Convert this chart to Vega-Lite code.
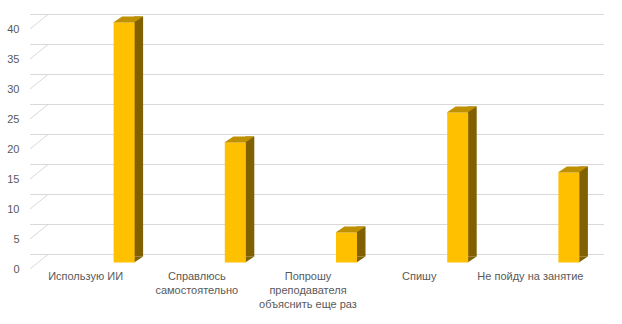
{
  "$schema": "https://vega.github.io/schema/vega-lite/v6.json",
  "width": 556,
  "height": 240,
  "autosize": {"type": "none"},
  "padding": {"left": 30, "top": 29, "right": 36, "bottom": 55},
  "background": "white",
  "config": {
    "view": {"stroke": null},
    "axis": {"labelFont": "Liberation Sans", "labelFontSize": 11, "labelColor": "#595959", "grid": false, "ticks": false, "domain": false}
  },
  "datasets": {
    "bars": [
      {"category": "Использую ИИ", "value": 40},
      {"category": "Справлюсь самостоятельно", "value": 20},
      {"category": "Попрошу преподавателя объяснить еще раз", "value": 5},
      {"category": "Спишу", "value": 25},
      {"category": "Не  пойду на занятие", "value": 15}
    ],
    "ticks": [
      {"value": 0}, {"value": 5}, {"value": 10}, {"value": 15}, {"value": 20},
      {"value": 25}, {"value": 30}, {"value": 35}, {"value": 40}
    ]
  },
  "layer": [
    {
      "data": {"name": "ticks"},
      "mark": {"type": "rule", "color": "#D9D9D9", "strokeWidth": 1, "xOffset": 18, "x2Offset": 22, "yOffset": -14.5},
      "encoding": {
        "y": {"field": "value", "type": "quantitative", "title": null, "scale": {"domain": [0, 40], "nice": false},
          "axis": {"values": [0, 5, 10, 15, 20, 25, 30, 35, 40], "labelPadding": 11, "labelOverlap": false}}
      }
    },
    {
      "data": {"name": "ticks"},
      "mark": {"type": "point", "shape": "M-1,0.806L1,-0.806", "size": 324, "filled": false, "stroke": "#D9D9D9", "strokeWidth": 1, "opacity": 1, "xOffset": -46.6, "yOffset": -7.25},
      "encoding": {
        "x": {"datum": "Использую ИИ", "type": "nominal", "title": null},
        "y": {"field": "value", "type": "quantitative", "title": null,
          "axis": {"values": [0, 5, 10, 15, 20, 25, 30, 35, 40], "labelPadding": 11, "labelOverlap": false}}
      }
    },
    {
      "data": {"name": "bars"},
      "mark": {"type": "bar", "color": "#806000", "width": 9, "xOffset": 53, "yOffset": -12.5, "y2Offset": -12.5},
      "encoding": {
        "x": {"field": "category", "type": "nominal", "sort": null, "title": null},
        "y": {"field": "value", "type": "quantitative", "title": null,
          "axis": {"values": [0, 5, 10, 15, 20, 25, 30, 35, 40], "labelPadding": 11, "labelOverlap": false}}
      }
    },
    {
      "data": {"name": "bars"},
      "mark": {"type": "point", "shape": "M-1,-0.667L1,-0.667L-1,0.667Z", "size": 81, "filled": true, "color": "#806000", "opacity": 1, "strokeWidth": 0, "xOffset": 53, "yOffset": -9.5},
      "encoding": {
        "x": {"field": "category", "type": "nominal", "sort": null, "title": null},
        "y": {"datum": 0, "type": "quantitative", "title": null,
          "axis": {"values": [0, 5, 10, 15, 20, 25, 30, 35, 40], "labelPadding": 11, "labelOverlap": false}}
      }
    },
    {
      "data": {"name": "bars"},
      "mark": {"type": "bar", "color": "#FFC000", "width": 21, "xOffset": 38.5, "yOffset": -6.5, "y2Offset": -6.5},
      "encoding": {
        "x": {
          "field": "category", "type": "nominal", "sort": null, "title": null,
          "scale": {"paddingInner": 0, "paddingOuter": 0},
          "axis": {
            "labelAngle": 0, "labelPadding": 7, "labelLineHeight": 14, "labelLimit": 200, "labelAlign": "center",
            "labelExpr": "datum.value == 'Справлюсь самостоятельно' ? ['Справлюсь', 'самостоятельно'] : datum.value == 'Попрошу преподавателя объяснить еще раз' ? ['Попрошу', 'преподавателя', 'объяснить еще раз'] : datum.label"
          }
        },
        "y": {
          "field": "value", "type": "quantitative", "title": null,
          "axis": {"values": [0, 5, 10, 15, 20, 25, 30, 35, 40], "labelPadding": 11, "labelOverlap": false}
        }
      }
    },
    {
      "data": {"name": "bars"},
      "mark": {"type": "point", "shape": "M-1,0.2L0.4,0.2L1,-0.2L-0.4,-0.2Z", "size": 900, "filled": true, "color": "#BF9000", "opacity": 1, "strokeWidth": 0, "xOffset": 42.5, "yOffset": -9.5},
      "encoding": {
        "x": {"field": "category", "type": "nominal", "sort": null, "title": null},
        "y": {"field": "value", "type": "quantitative", "title": null,
          "axis": {"values": [0, 5, 10, 15, 20, 25, 30, 35, 40], "labelPadding": 11, "labelOverlap": false}}
      }
    }
  ]
}
